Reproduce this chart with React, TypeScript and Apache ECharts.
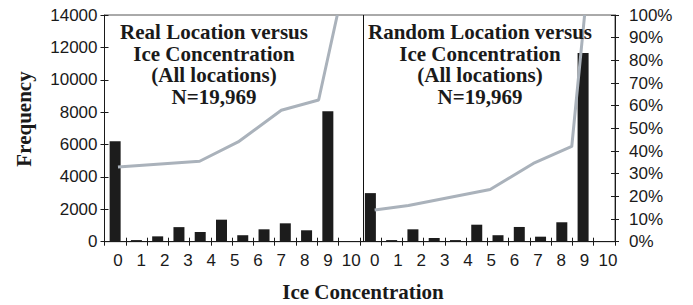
import React, { useEffect, useRef } from "react";
import * as echarts from "echarts";

// Tick labels of the shared category axis (two panels, 0..10 each)
const iceLabels = ["0","1","2","3","4","5","6","7","8","9","10","0","1","2","3","4","5","6","7","8","9","10"];

// Frequency bars for each panel (ice concentration 0..10)
const realFreq = [6200, 100, 330, 900, 600, 1360, 400, 765, 1135, 705, 8050];
const randomFreq = [3000, 100, 765, 230, 100, 1050, 400, 910, 310, 1200, 11650];

// Cumulative percentage lines (x in ice-concentration units, y in %)
const realCumX = [0, 3.5, 5.15, 7.0, 8.6, 9.4];
const realCumPct = [33, 35.5, 44, 58, 62.5, 100];
const randomCumX = [0, 1.45, 4.95, 6.8, 8.45, 9.0];
const randomCumPct = [14, 16, 23, 34.5, 42, 100];

const freqTicks = { min: 0, max: 14000, interval: 2000 };
const pctTicks = { min: 0, max: 100, interval: 10 };

const titleReal = ["Real Location versus", "Ice Concentration", "(All locations)", "N=19,969"];
const titleRandom = ["Random Location versus", "Ice Concentration", "(All locations)", "N=19,969"];

const SANS = "Liberation Sans";
const SERIF = "Liberation Serif";

export default function App() {
  const ref = useRef<HTMLDivElement>(null);

  useEffect(() => {
    if (!ref.current) return;
    const chart = echarts.init(ref.current, null, { renderer: "svg" });

    // bar slots: 11 + gap + 11 + gap
    const barSlots = [...realFreq, null, ...randomFreq, null];
    const slotCats = barSlots.map((_, i) => String(i));
    const offset = realFreq.length; // right panel shift in label units

    const axisColor = "#1a1a1a";
    const labelStyle = { color: "#1a1a1a", fontSize: 17, fontFamily: SANS };
    const serifText = { fontFamily: SERIF, fontWeight: "bold" as const, fontSize: 21, fill: "#1a1a1a" };

    const grid0 = { left: 104.5, top: 15, width: 510.5, height: 226.7 };
    const grid1 = { left: 106.3, top: 15, width: 513.3, height: 226.7 };

    chart.setOption({
      animation: false,
      grid: [
        { ...grid0, show: true, borderColor: "#555", borderWidth: 1, backgroundColor: "transparent" },
        { ...grid1, show: false },
      ],
      xAxis: [
        {
          type: "category", gridIndex: 0, data: slotCats, position: "bottom",
          axisLine: { lineStyle: { color: axisColor, width: 1 } },
          axisTick: { show: true, length: 4, inside: false, lineStyle: { color: axisColor } },
          axisLabel: { show: false },
        },
        {
          type: "category", gridIndex: 0, data: slotCats, position: "bottom",
          axisLine: { show: false },
          axisTick: { show: true, length: 4, inside: true, lineStyle: { color: axisColor } },
          axisLabel: { show: false },
        },
        {
          type: "category", gridIndex: 1, data: iceLabels, position: "bottom",
          axisLine: { show: false }, axisTick: { show: false },
          axisLabel: { ...labelStyle, margin: 10, interval: 0 },
        },
        { type: "value", gridIndex: 1, min: -0.5, max: iceLabels.length - 0.5, show: false },
      ],
      yAxis: [
        {
          type: "value", gridIndex: 0, position: "left", ...freqTicks,
          axisLine: { show: true, lineStyle: { color: axisColor } },
          axisTick: { show: true, length: 4, inside: false, lineStyle: { color: axisColor } },
          axisLabel: { ...labelStyle, margin: 7, formatter: (v: number) => String(v) },
          splitLine: { show: false },
        },
        {
          type: "value", gridIndex: 0, position: "right", ...pctTicks,
          axisLine: { show: true, lineStyle: { color: axisColor } },
          axisTick: { show: true, length: 4, inside: false, lineStyle: { color: axisColor } },
          axisLabel: { ...labelStyle, margin: 14, formatter: (v: number) => v + "%" },
          splitLine: { show: false },
        },
        {
          type: "value", gridIndex: 0, position: "left", ...freqTicks,
          axisLine: { show: false },
          axisTick: { show: true, length: 4, inside: true, lineStyle: { color: axisColor } },
          axisLabel: { show: false }, splitLine: { show: false },
        },
        {
          type: "value", gridIndex: 0, position: "right", ...pctTicks,
          axisLine: { show: false },
          axisTick: { show: true, length: 4, inside: true, lineStyle: { color: axisColor } },
          axisLabel: { show: false }, splitLine: { show: false },
        },
        { type: "value", gridIndex: 1, ...pctTicks, show: false },
      ],
      series: [
        {
          type: "bar", xAxisIndex: 0, yAxisIndex: 0, data: barSlots,
          barWidth: 11, itemStyle: { color: "#1c1c1c" }, z: 2,
        },
        {
          type: "line", xAxisIndex: 3, yAxisIndex: 4,
          data: realCumX.map((x, i) => [x, realCumPct[i]]),
          symbol: "none", clip: true, z: 3,
          lineStyle: { color: "#aab2bb", width: 3 },
          markLine: {
            silent: true, symbol: "none", label: { show: false },
            lineStyle: { color: "#111", width: 1, type: "solid" },
            data: [{ xAxis: offset - 0.5 }],
          },
        },
        {
          type: "line", xAxisIndex: 3, yAxisIndex: 4,
          data: randomCumX.map((x, i) => [x + offset, randomCumPct[i]]),
          symbol: "none", clip: true, z: 3,
          lineStyle: { color: "#aab2bb", width: 3 },
        },
      ],
      graphic: [
        {
          type: "text", x: 214, y: 21, z: 10,
          style: {
            ...serifText, text: titleReal.join("\n"),
            textAlign: "center", textVerticalAlign: "top", lineHeight: 21.7,
          },
        },
        {
          type: "text", x: 480, y: 21, z: 10,
          style: {
            ...serifText, text: titleRandom.join("\n"),
            textAlign: "center", textVerticalAlign: "top", lineHeight: 21.7,
          },
        },
        {
          type: "text", x: 24, y: 119, rotation: Math.PI / 2,
          style: {
            ...serifText, text: "Frequency",
            textAlign: "center", textVerticalAlign: "middle",
          },
        },
        {
          type: "text", x: 363, y: 292,
          style: {
            ...serifText, text: "Ice Concentration",
            textAlign: "center", textVerticalAlign: "middle",
          },
        },
      ],
    });

    return () => chart.dispose();
  }, []);

  return (
    <div
      ref={ref}
      style={{ position: "fixed", left: 0, top: 0, width: 693, height: 305, background: "#fff" }}
    />
  );
}
